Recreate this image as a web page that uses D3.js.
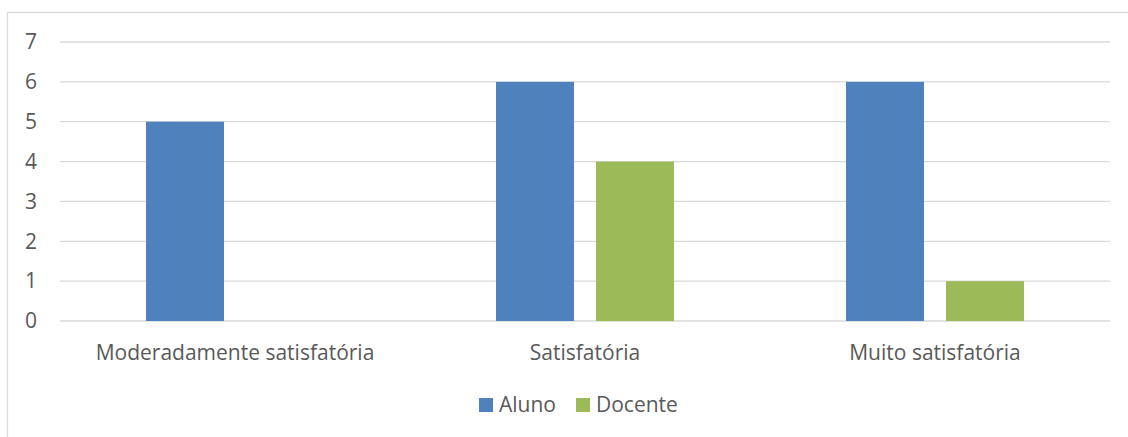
<!DOCTYPE html>
<html>
<head>
<meta charset="utf-8">
<script src="https://cdn.jsdelivr.net/npm/d3@7"></script>
<style>
  html, body { margin: 0; padding: 0; background: #fff; }
  svg { display: block; }
  text { font-family: "Open Sans", Lato, sans-serif; fill: #595959; }
</style>
</head>
<body>
<svg id="chart" width="1128" height="437"></svg>
<script>
const categories = ["Moderadamente satisfatória", "Satisfatória", "Muito satisfatória"];
const seriesNames = ["Aluno", "Docente"];
const alunoValues = [5, 6, 6];
const docenteValues = [0, 4, 1];
const yTicks = [0, 1, 2, 3, 4, 5, 6, 7];
const colors = ["#4f81bd", "#9bbb59"];

const seriesValues = [alunoValues, docenteValues];
const rows = categories.map((c, i) => ({
  category: c,
  values: seriesNames.map((s, j) => ({ series: s, value: seriesValues[j][i] }))
}));

const svg = d3.select("#chart");
const W = 1128, H = 437;
const plot = { left: 60, right: 1110, top: 42, bottom: 321 };
const fontSize = "21px";

// chart frame
svg.append("rect")
  .attr("x", 7.5).attr("y", 12.5)
  .attr("width", W + 10).attr("height", H + 10)
  .attr("fill", "none").attr("stroke", "#d9d9d9").attr("stroke-width", 1.3);

const x0 = d3.scaleBand().domain(categories).range([plot.left, plot.right]).paddingInner(0).paddingOuter(0);
const groupWidth = 178;
const x1 = d3.scaleBand().domain(seriesNames)
  .range([(x0.bandwidth() - groupWidth) / 2, (x0.bandwidth() + groupWidth) / 2])
  .paddingInner(22 / 100);
const y = d3.scaleLinear().domain([0, 7]).range([plot.bottom, plot.top]);
const color = d3.scaleOrdinal().domain(seriesNames).range(colors);

// horizontal gridlines
svg.append("g")
  .selectAll("line").data(yTicks).join("line")
  .attr("x1", plot.left).attr("x2", plot.right)
  .attr("y1", d => y(d)).attr("y2", d => y(d))
  .attr("stroke", "#d9d9d9").attr("stroke-width", 1.3);

// y axis labels
const yAxis = d3.axisLeft(y).tickValues(yTicks).tickSize(0).tickPadding(0).tickFormat(d3.format("d"));
const yg = svg.append("g").attr("transform", `translate(${plot.left - 35},0)`).call(yAxis);
yg.select(".domain").remove();
yg.selectAll("text").attr("text-anchor", "start").attr("x", 0)
  .style("font-size", fontSize).style("font-family", "'Open Sans', Lato, sans-serif").attr("fill", "#595959");

// bars
const groups = svg.append("g").selectAll("g").data(rows).join("g")
  .attr("transform", d => `translate(${x0(d.category)},0)`);
groups.selectAll("rect").data(d => d.values.filter(v => v.value > 0)).join("rect")
  .attr("x", d => x1(d.series))
  .attr("width", x1.bandwidth())
  .attr("y", d => y(d.value))
  .attr("height", d => y(0) - y(d.value))
  .attr("fill", d => color(d.series));

// category axis labels
const xAxis = d3.axisBottom(x0).tickSize(0).tickPadding(0);
const xg = svg.append("g").attr("transform", `translate(0,${plot.bottom})`).call(xAxis);
xg.select(".domain").remove();
xg.selectAll("text").attr("y", 32).attr("dy", "0.35em")
  .style("font-size", fontSize).style("font-family", "'Open Sans', Lato, sans-serif").attr("fill", "#595959");

// legend
const legend = svg.append("g").attr("transform", "translate(479,405)");
const legendOffsets = [0, 97];
const items = legend.selectAll("g").data(seriesNames).join("g")
  .attr("transform", (d, i) => `translate(${legendOffsets[i]},0)`);
items.append("rect").attr("x", 0).attr("y", -7).attr("width", 14).attr("height", 14)
  .attr("fill", d => color(d));
items.append("text").attr("x", 20).attr("dy", "0.35em")
  .style("font-size", fontSize).text(d => d);
</script>
</body>
</html>
